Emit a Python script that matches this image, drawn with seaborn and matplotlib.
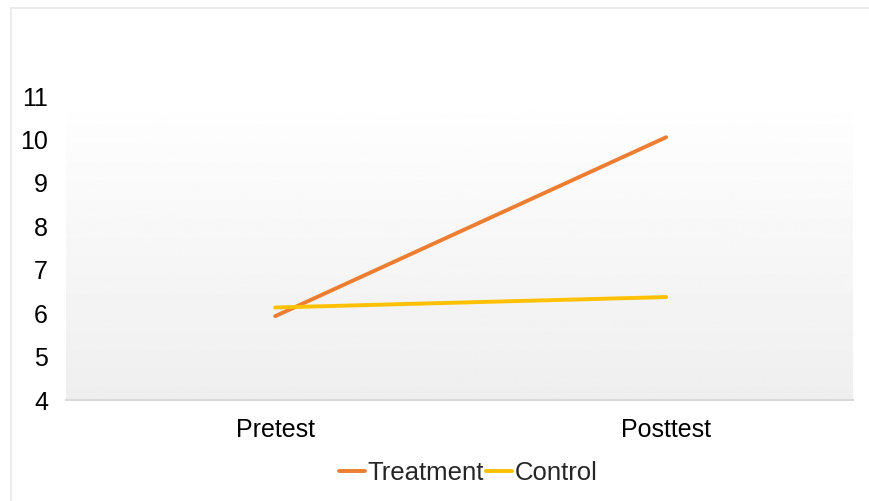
import numpy as np
import pandas as pd
import seaborn as sns
import matplotlib.pyplot as plt
from matplotlib.lines import Line2D

# data
phases = ['Pretest', 'Posttest']
treatment = [5.93, 10.05]
control = [6.13, 6.37]
groups = ['Treatment', 'Control']
yticks = [4, 5, 6, 7, 8, 9, 10, 11]

df = pd.DataFrame({
    'Phase': phases * 2,
    'Score': treatment + control,
    'Group': [groups[0]] * 2 + [groups[1]] * 2,
})

sns.set_style("white")
plt.rcParams['font.family'] = ['Liberation Sans', 'DejaVu Sans']

fig = plt.figure(figsize=(8.69, 5.01), dpi=100)
ax = fig.add_axes([66 / 869, 1 - 400 / 501, (853 - 66) / 869, (400 - 96) / 501])

x0, x1 = -0.535, 1.478

# light grey gradient behind the plot area
grad = np.linspace(0.995, 0.935, 256).reshape(-1, 1)
ax.imshow(grad, extent=[x0, x1, 4, 10.64], aspect='auto', cmap='gray',
          vmin=0, vmax=1, origin='upper', zorder=0)

sns.lineplot(data=df, x='Phase', y='Score', hue='Group',
             palette={'Treatment': '#ED7D31', 'Control': '#FFC000'},
             linewidth=2.8, ax=ax, zorder=3, sort=False)

ax.set_xlim(x0, x1)
ax.set_ylim(4, 11)
ax.set_yticks(yticks)
ax.set_xlabel('')
ax.set_ylabel('')
ax.tick_params(axis='both', length=0, labelsize=18, colors='black')
ax.tick_params(axis='y', pad=13)
ax.tick_params(axis='x', pad=13)
for s in ['top', 'right', 'left']:
    ax.spines[s].set_visible(False)
ax.spines['bottom'].set_color('#d9d9d9')
ax.spines['bottom'].set_linewidth(1.5)

leg = ax.legend(loc='center', bbox_to_anchor=(468 / 869, 1 - 473 / 501),
                bbox_transform=fig.transFigure, ncol=2, frameon=False,
                fontsize=18.5, handlelength=1.0, handletextpad=0.1,
                columnspacing=0.1, borderpad=0)

# faint outer frame, left and top
fig.add_artist(Line2D([11 / 869, 11 / 869], [0, 1 - 8 / 501], color='#e6e6e6', lw=1.2))
fig.add_artist(Line2D([11 / 869, 1], [1 - 8 / 501, 1 - 8 / 501], color='#e6e6e6', lw=1.2))

fig.savefig('out.png', dpi=100)
